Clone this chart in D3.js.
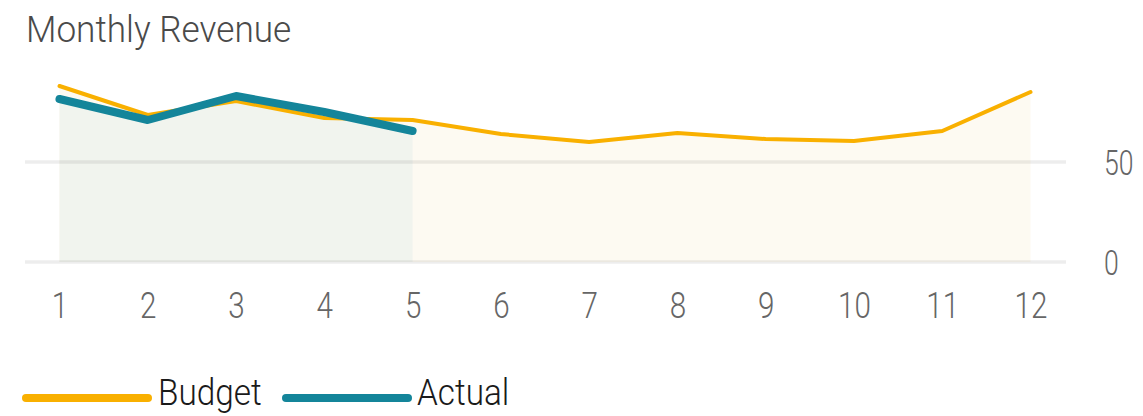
<!DOCTYPE html>
<html>
<head>
<meta charset="utf-8">
<script src="https://cdn.jsdelivr.net/npm/d3@7"></script>
<style>
  html, body { margin: 0; padding: 0; background: #ffffff; }
  svg { display: block; }
  text { font-family: Roboto, "Noto Sans", sans-serif; font-weight: 300; }
</style>
</head>
<body>
<svg id="chart" width="1143" height="416"></svg>
<script>
// Monthly revenue: budget for the whole year, actuals so far
const months = [1, 2, 3, 4, 5, 6, 7, 8, 9, 10, 11, 12];
const budget = [88, 73.5, 80.5, 72, 71, 64, 60, 64.5, 61.5, 60.5, 65.5, 85];
const actual = [81.5, 71, 83, 75, 65.5];
const yTicks = [0, 50];
const seriesNames = ["Budget", "Actual"];

const colBudget = "#f9b000";
const colActual = "#14859a";
const fillBudget = "#fdfaf2";
const fillActual = "#f1f4ee";

const svg = d3.select("#chart");

const x = d3.scaleLinear().domain([1, 12]).range([59.5, 1030.5]);
const y = d3.scaleLinear().domain([0, 100]).range([262, 62]);

// narrow the glyphs for a DIN-like look
function squeeze(sel, k) {
  sel.each(function () {
    const w = this.getComputedTextLength();
    d3.select(this).attr("textLength", w * k).attr("lengthAdjust", "spacingAndGlyphs");
  });
}

// title
svg.append("text")
  .attr("x", 26).attr("y", 42)
  .attr("fill", "#4a4a4a")
  .style("font-size", "37px")
  .text("Monthly Revenue")
  .call(squeeze, 0.95);

const budgetPts = budget.map((v, i) => [months[i], v]);
const actualPts = actual.map((v, i) => [months[i], v]);

const area = d3.area().x(d => x(d[0])).y0(y(0)).y1(d => y(d[1]));
const line = d3.line().x(d => x(d[0])).y(d => y(d[1]));

// shaded areas under each series
svg.append("path").datum(budgetPts).attr("d", area).attr("fill", fillBudget);
svg.append("path").datum(actualPts).attr("d", area).attr("fill", fillActual);

// horizontal gridlines
svg.append("g").selectAll("line").data(yTicks).join("line")
  .attr("x1", 25).attr("x2", 1066)
  .attr("y1", d => y(d)).attr("y2", d => y(d))
  .attr("stroke", "#000").attr("stroke-opacity", 0.07).attr("stroke-width", 3.5);

// series lines
svg.append("path").datum(budgetPts).attr("d", line)
  .attr("fill", "none").attr("stroke", colBudget).attr("stroke-width", 4)
  .attr("stroke-linejoin", "round").attr("stroke-linecap", "round");
svg.append("path").datum(actualPts).attr("d", line)
  .attr("fill", "none").attr("stroke", colActual).attr("stroke-width", 8)
  .attr("stroke-linejoin", "round").attr("stroke-linecap", "round");

// y axis labels on the right
const yAxis = d3.axisRight(y).tickValues(yTicks).tickSize(0).tickPadding(0);
const gy = svg.append("g").attr("transform", "translate(1104,0)").call(yAxis);
gy.select(".domain").remove();
gy.selectAll("text")
  .attr("fill", "#666").attr("dy", "0.36em")
  .style("font-size", "35px").style("font-family", "Roboto, sans-serif").style("font-weight", 300)
  .call(squeeze, 0.76);

// x axis labels
const xAxis = d3.axisBottom(x).tickValues(months).tickFormat(d3.format("d")).tickSize(0).tickPadding(0);
const gx = svg.append("g").attr("transform", "translate(0,291)").call(xAxis);
gx.select(".domain").remove();
gx.selectAll("text")
  .attr("fill", "#666").attr("dy", "0.74em")
  .style("font-size", "37px").style("font-family", "Roboto, sans-serif").style("font-weight", 300)
  .call(squeeze, 0.8);

// legend
const legend = [
  { name: seriesNames[0], color: colBudget, x0: 26, x1: 148, tx: 158 },
  { name: seriesNames[1], color: colActual, x0: 286, x1: 408, tx: 417 }
];
const lg = svg.append("g");
lg.selectAll("line").data(legend).join("line")
  .attr("x1", d => d.x0).attr("x2", d => d.x1)
  .attr("y1", 398).attr("y2", 398)
  .attr("stroke", d => d.color).attr("stroke-width", 8).attr("stroke-linecap", "round");
lg.selectAll("text").data(legend).join("text")
  .attr("x", d => d.tx).attr("y", 405)
  .attr("fill", "#1a1a1a")
  .style("font-size", "37px")
  .text(d => d.name)
  .call(squeeze, 0.9);
</script>
</body>
</html>
